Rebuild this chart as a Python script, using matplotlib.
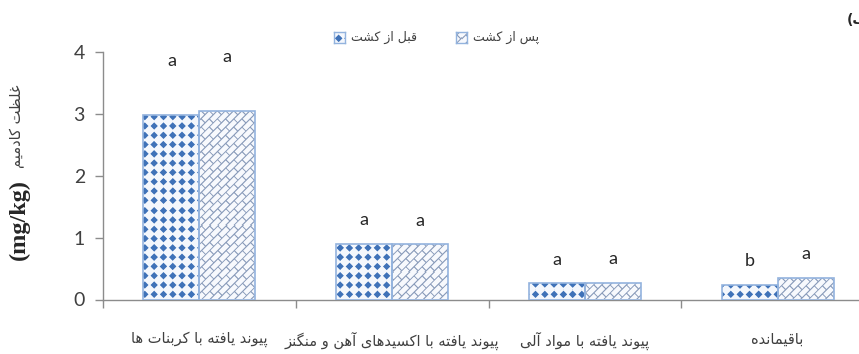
import numpy as np
import matplotlib
matplotlib.use('Agg')
import matplotlib.pyplot as plt

plt.rcParams['font.family'] = ['Lato', 'DejaVu Sans']

# ── Data ──────────────────────────────────────────────────────────────────
fractions = ['پیوند یافته با کربنات ها',
             'پیوند یافته با اکسیدهای آهن و منگنز',
             'پیوند یافته با مواد آلی',
             'باقیمانده']
before = [2.98, 0.90, 0.26, 0.24]
after = [3.04, 0.89, 0.27, 0.35]
before_letters = ['a', 'a', 'a', 'b']
after_letters = ['a', 'a', 'a', 'a']
series_names = ['قبل از کشت', 'پس از کشت']
ylabel_fa = 'غلظت کادمیم'
ylabel_unit = '(mg/kg)'
panel_tag = 'الف)'

# ── Minimal Persian shaping (matplotlib has no RTL / joining support) ────
FORMS = {
    # letter: (isolated, final, initial, medial); 2-tuples join on the right only
    'ا': ('\uFE8D', '\uFE8E'),
    'آ': ('\uFE81', '\uFE82'),
    'ب': ('\uFE8F', '\uFE90', '\uFE91', '\uFE92'),
    'پ': ('\uFB56', '\uFB57', '\uFB58', '\uFB59'),
    'ت': ('\uFE95', '\uFE96', '\uFE97', '\uFE98'),
    'د': ('\uFEA9', '\uFEAA'),
    'ر': ('\uFEAD', '\uFEAE'),
    'ز': ('\uFEAF', '\uFEB0'),
    'س': ('\uFEB1', '\uFEB2', '\uFEB3', '\uFEB4'),
    'ش': ('\uFEB5', '\uFEB6', '\uFEB7', '\uFEB8'),
    'ظ': ('\uFEC5', '\uFEC6', '\uFEC7', '\uFEC8'),
    'غ': ('\uFECD', '\uFECE', '\uFECF', '\uFED0'),
    'ف': ('\uFED1', '\uFED2', '\uFED3', '\uFED4'),
    'ق': ('\uFED5', '\uFED6', '\uFED7', '\uFED8'),
    'ک': ('\uFB8E', '\uFB8F', '\uFB90', '\uFB91'),
    'گ': ('\uFB92', '\uFB93', '\uFB94', '\uFB95'),
    'ل': ('\uFEDD', '\uFEDE', '\uFEDF', '\uFEE0'),
    'م': ('\uFEE1', '\uFEE2', '\uFEE3', '\uFEE4'),
    'ن': ('\uFEE5', '\uFEE6', '\uFEE7', '\uFEE8'),
    'ه': ('\uFEE9', '\uFEEA', '\uFEEB', '\uFEEC'),
    'و': ('\uFEED', '\uFEEE'),
    'ی': ('\uFBFC', '\uFBFD', '\uFBFE', '\uFBFF'),
}
NORMALISE = {'\u064A': 'ی', '\u0649': 'ی', '\u0643': 'ک'}
MIRROR = {'(': ')', ')': '('}


def rtl(text):
    text = ''.join(NORMALISE.get(c, c) for c in text)
    out = []
    for i, ch in enumerate(text):
        forms = FORMS.get(ch)
        if forms is None:
            out.append(MIRROR.get(ch, ch))
            continue
        prev = text[i - 1] if i > 0 else ''
        nxt = text[i + 1] if i + 1 < len(text) else ''
        join_prev = len(FORMS.get(prev, ())) == 4
        join_next = len(forms) == 4 and nxt in FORMS
        if join_prev and join_next:
            out.append(forms[3])
        elif join_prev:
            out.append(forms[1])
        elif join_next:
            out.append(forms[2])
        else:
            out.append(forms[0])
    return ''.join(reversed(out))


# ── Fill patterns (pixel textures) ────────────────────────────────────────
def _coords(h, w, ss=3):
    ys, xs = np.mgrid[0:h * ss, 0:w * ss]
    return (xs + 0.5) / ss, (h - (ys + 0.5) / ss)


def _blend(cov, h, w, fg, bg, ss=3):
    cov = cov.reshape(h, ss, w, ss).mean(axis=(1, 3))[..., None]
    fg = np.array(matplotlib.colors.to_rgb(fg))
    bg = np.array(matplotlib.colors.to_rgb(bg))
    return bg + (fg - bg) * cov


def diamond_texture(h, w, period=9.3, radius=3.7):
    xs, ys = _coords(h, w)
    u = np.abs(xs % period - period / 2)
    v = np.abs(ys % period - period / 2)
    return _blend((u + v) < radius, h, w, '#3F72B8', '#F4F7FC')


def brick_texture(h, w, gap=5.8, length=11.5, lw=1.1):
    xs, ys = _coords(h, w)
    a = (xs - ys) / np.sqrt(2)
    b = (xs + ys) / np.sqrt(2)
    row = np.floor(a / gap)
    long_edge = (a - row * gap) < lw
    short_edge = ((b + (row % 2) * length / 2) % length) < lw
    return _blend(long_edge | short_edge, h, w, '#8B9DBB', '#F7F9FD')


# ── Figure ────────────────────────────────────────────────────────────────
W, H, DPI = 859, 354, 100
fig = plt.figure(figsize=(W / DPI, H / DPI), dpi=DPI)

ax_l, ax_b, ax_w, ax_h = 103, 54.5, 771, 247.5   # pixels
ax = fig.add_axes([ax_l / W, ax_b / H, ax_w / W, ax_h / H])

x = np.arange(len(fractions))
bw = 0.29
border = '#93B3DE'
axis_grey = '#8C8C8C'

tex_before = diamond_texture(int(ax_h), int(ax_w))
tex_after = brick_texture(int(ax_h), int(ax_w))
extent = (-0.5, 3.5, 0, 4)

bars_before = ax.bar(x - bw, before, bw, align='edge', facecolor='none',
                     edgecolor=border, linewidth=1.2, zorder=3)
bars_after = ax.bar(x, after, bw, align='edge', facecolor='none',
                    edgecolor=border, linewidth=1.2, zorder=3)

for bars, tex in ((bars_before, tex_before), (bars_after, tex_after)):
    for bar in bars:
        im = ax.imshow(tex, extent=extent, origin='upper', aspect='auto',
                       interpolation='nearest', zorder=2)
        im.set_clip_path(bar)

# significance letters
pad = [0.8, 0.3, 0.3, 0.3]
for i in range(len(fractions)):
    ax.text(x[i] - bw / 2, before[i] + pad[i], before_letters[i],
            ha='center', va='baseline', fontsize=13, color='#262626')
    ax.text(x[i] + bw / 2, after[i] + pad[i], after_letters[i],
            ha='center', va='baseline', fontsize=13, color='#262626')

ax.set_xlim(-0.5, 3.5)
ax.set_ylim(0, 4)
for side in ('top', 'right'):
    ax.spines[side].set_visible(False)
for side in ('left', 'bottom'):
    ax.spines[side].set_color(axis_grey)
    ax.spines[side].set_linewidth(1.0)

ax.set_yticks(range(5))
ax.tick_params(axis='y', length=6, width=1.0, color=axis_grey,
               labelcolor='#404040', labelsize=14, pad=7)

ax.set_xticks(x)
ax.set_xticklabels([rtl(s) for s in fractions], fontsize=10.5,
                   family='DejaVu Sans', color='#404040')
ax.tick_params(axis='x', which='major', length=0, pad=23)
ax.set_xticks(np.arange(-0.5, 4.0, 1.0), minor=True)
ax.tick_params(axis='x', which='minor', length=6, width=1.0,
               color=axis_grey)

# axis title: Persian part and the unit in a bold serif face
fig.text(19 / W, 1 - 220 / H, ylabel_unit, rotation=90, ha='center',
         va='center', family='Liberation Serif', weight='bold', fontsize=17.5,
         color='#262626')
fig.text(17 / W, 1 - 126 / H, rtl(ylabel_fa), rotation=90, ha='center',
         va='center', family='DejaVu Sans', fontsize=10.5, color='#404040')

# legend drawn by hand so the pattern swatches match the bars
legend_items = [(334, series_names[0], diamond_texture(11, 11)),
                (456, series_names[1], brick_texture(11, 11))]
for left, name, tex in legend_items:
    sw = fig.add_axes([left / W, 1 - 43 / H, 11 / W, 11 / H])
    sw.imshow(tex, interpolation='nearest', aspect='auto')
    sw.set_xticks([])
    sw.set_yticks([])
    for sp in sw.spines.values():
        sp.set_color(border)
        sp.set_linewidth(1.0)
    fig.text((left + 17) / W, 1 - 37 / H, rtl(name), ha='left', va='center',
             family='DejaVu Sans', fontsize=9, color='#404040')

fig.text(847 / W, 1 - 20 / H, rtl(panel_tag), ha='left', va='center',
         family='DejaVu Sans', fontsize=10, weight='bold', color='#262626')

fig.savefig('out.png', dpi=DPI)
